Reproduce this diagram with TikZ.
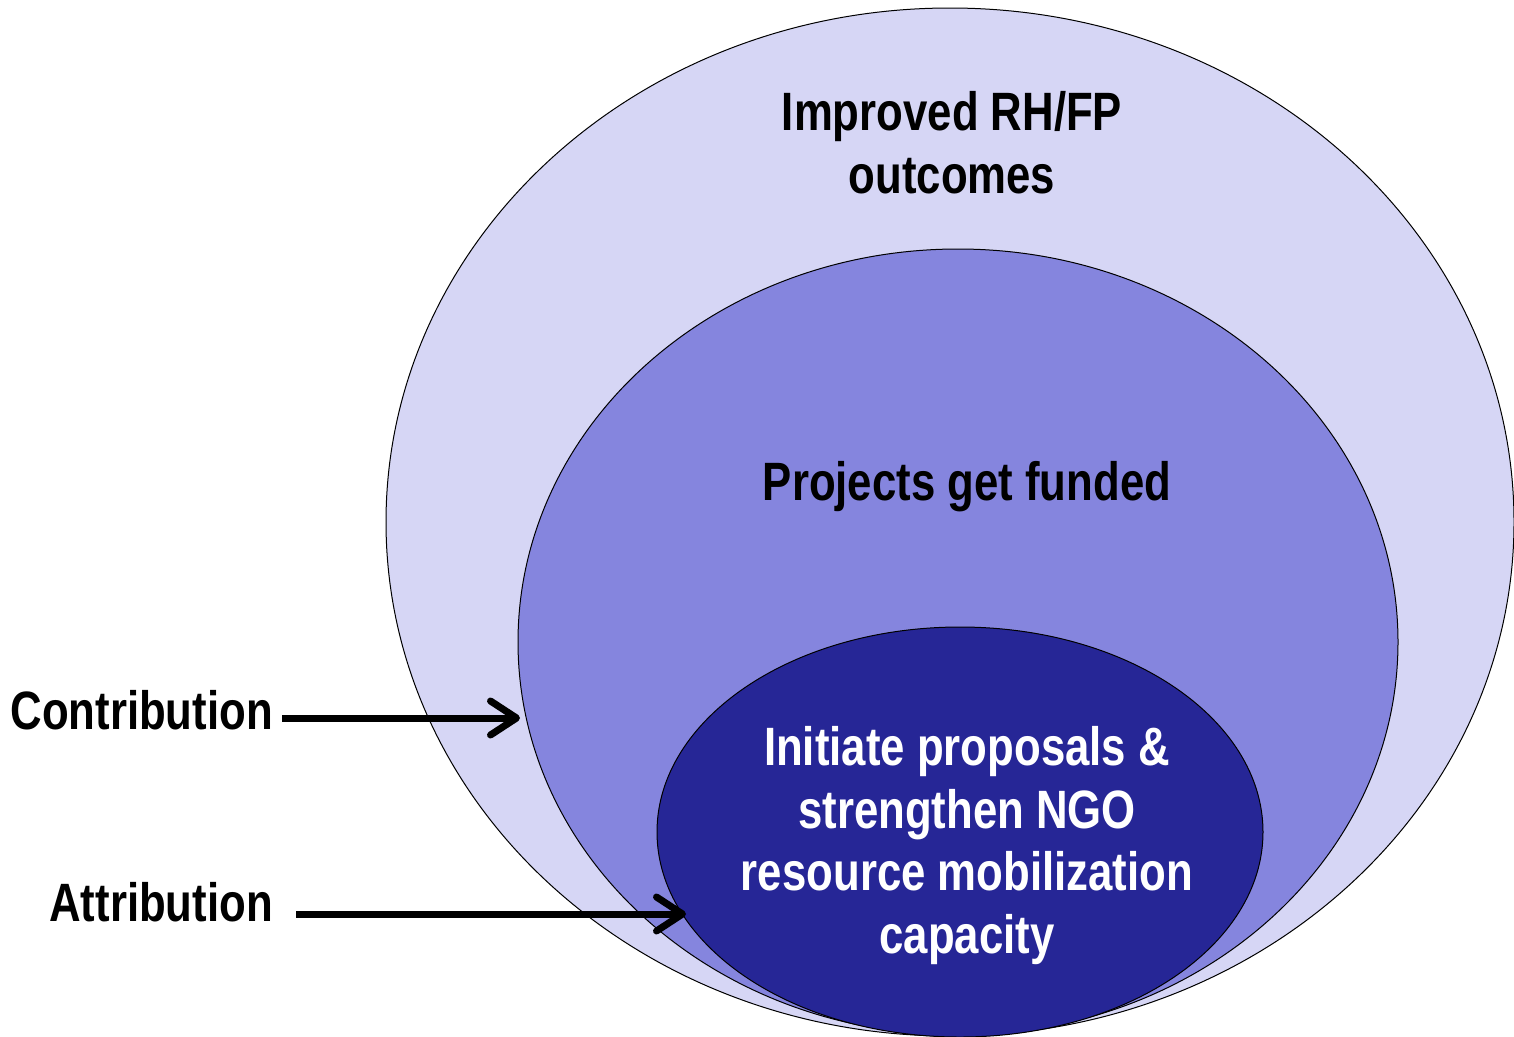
\documentclass[tikz,border=0pt]{standalone}
\usepackage{fontspec}
\setmainfont{Liberation Sans}[FakeStretch=0.81]
\usetikzlibrary{arrows.meta}
\definecolor{outerc}{RGB}{214,214,245}
\definecolor{midc}{RGB}{133,133,222}
\definecolor{innerc}{RGB}{38,38,150}
\begin{document}
\begin{tikzpicture}[x=1pt,y=-1pt,
  ring/.style={draw=black,line width=1pt},
  lbl/.style={font=\fontsize{54}{62.5}\selectfont\bfseries,align=center,inner sep=0pt,anchor=base},
  sidelbl/.style={font=\fontsize{54}{62}\selectfont\bfseries,inner sep=0pt,anchor=base east},
  pointer/.style={line width=7pt,-{Straight Barb[length=26pt,width=34pt,line width=7pt,round]}}]
\useasboundingbox (0,0) rectangle (1514,1036);
\begin{scope}
\clip (0,0) rectangle (1514,1036);
\fill[white] (0,0) rectangle (1514,1036);
\draw[ring,fill=outerc] (950,522) ellipse [x radius=564,y radius=514];
\draw[ring,fill=midc] (958,642) ellipse [x radius=440,y radius=393];
\draw[ring,fill=innerc] (960,832) ellipse [x radius=303,y radius=205];
\end{scope}
\node[lbl] (outer) at (952,193) {Improved RH/FP\\outcomes};
\node[lbl] (mid) at (967,500) {Projects get funded};
\node[lbl,text=white] (inner) at (967,953) {Initiate proposals \&\\strengthen NGO\\resource mobilization\\capacity};
\node[sidelbl] (contrib) at (273,729) {Contribution};
\node[sidelbl] (attrib) at (273,921) {Attribution};
\coordinate (ctip) at (520,718);
\coordinate (atip) at (686,914);
\coordinate (cstart) at (282,718);
\coordinate (astart) at (296,914);
\draw[pointer] (cstart) -- (ctip);
\draw[pointer] (astart) -- (atip);
\end{tikzpicture}
\end{document}
